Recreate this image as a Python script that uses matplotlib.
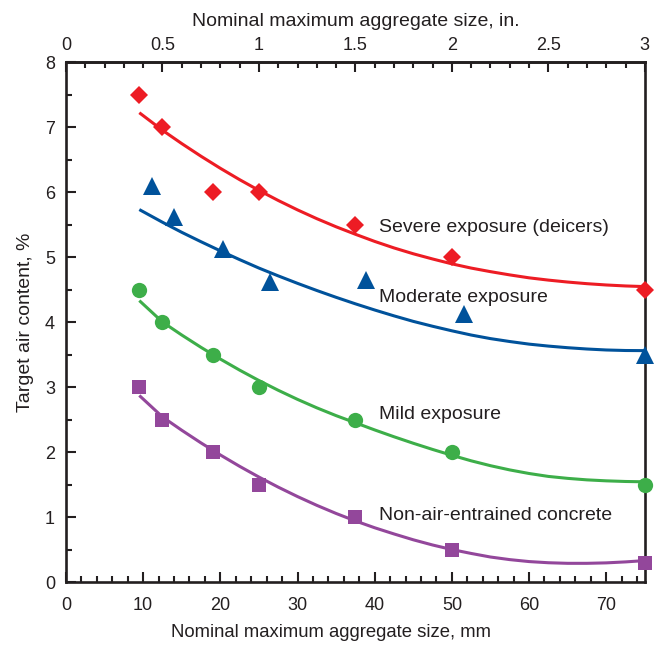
import matplotlib.pyplot as plt
from matplotlib.ticker import MultipleLocator

# measured points: aggregate size (mm) vs target air content (%)
size_mm = [9.5, 12.5, 19, 25, 37.5, 50, 75]
severe = [7.5, 7.0, 6.0, 6.0, 5.5, 5.0, 4.5]
mild = [4.5, 4.0, 3.5, 3.0, 2.5, 2.0, 1.5]
non_air = [3.0, 2.5, 2.0, 1.5, 1.0, 0.5, 0.3]

moderate_mm = [11.1, 14.0, 20.4, 26.4, 38.9, 51.6, 75]
moderate = [6.1, 5.62, 5.13, 4.62, 4.64, 4.13, 3.49]

# trend curves (every 2.5 mm)
curve_mm = [9.5, 12.5, 15, 17.5, 20, 22.5, 25, 27.5, 30, 32.5, 35, 37.5, 40, 42.5,
            45, 47.5, 50, 52.5, 55, 57.5, 60, 62.5, 65, 67.5, 70, 72.5, 75]
severe_fit = [7.22, 6.95, 6.745, 6.55, 6.365, 6.19, 6.025, 5.87, 5.725, 5.59, 5.465, 5.35, 5.24, 5.14,
              5.05, 4.97, 4.895, 4.83, 4.775, 4.725, 4.68, 4.645, 4.615, 4.59, 4.57, 4.555, 4.545]
moderate_fit = [5.73, 5.535, 5.38, 5.235, 5.095, 4.96, 4.83, 4.71, 4.595, 4.485, 4.38, 4.28, 4.185, 4.095,
                4.01, 3.935, 3.865, 3.8, 3.745, 3.7, 3.66, 3.63, 3.605, 3.585, 3.57, 3.562, 3.56]
mild_fit = [4.33, 4.0, 3.8, 3.61, 3.43, 3.26, 3.1, 2.95, 2.81, 2.68, 2.56, 2.45, 2.34, 2.235,
            2.135, 2.04, 1.95, 1.865, 1.79, 1.725, 1.67, 1.625, 1.595, 1.572, 1.557, 1.547, 1.542]
non_air_fit = [2.87, 2.54, 2.335, 2.14, 1.955, 1.78, 1.615, 1.46, 1.315, 1.18, 1.055, 0.94, 0.835, 0.74,
               0.65, 0.57, 0.5, 0.44, 0.385, 0.345, 0.315, 0.297, 0.288, 0.288, 0.295, 0.31, 0.33]

top_ticks = [0, 0.5, 1, 1.5, 2, 2.5, 3]

plt.rcParams['font.family'] = ['Liberation Sans', 'DejaVu Sans']
dark = '#231f20'
red = '#ed1c24'
blue = '#00529b'
green = '#3dae49'
purple = '#93479b'

fig = plt.figure(figsize=(6.6, 6.46), dpi=100)
ax = fig.add_axes([0.1, 0.099, 0.877, 0.805])

ax.plot(curve_mm, severe_fit, color=red, lw=2.2, solid_capstyle='butt')
ax.plot(curve_mm, moderate_fit, color=blue, lw=2.2, solid_capstyle='butt')
ax.plot(curve_mm, mild_fit, color=green, lw=2.2, solid_capstyle='butt')
ax.plot(curve_mm, non_air_fit, color=purple, lw=2.2, solid_capstyle='butt')

ax.plot(size_mm, severe, 'D', color=red, ms=9.5, mew=0, clip_on=False, zorder=5)
ax.plot(moderate_mm, moderate, '^', color=blue, ms=13, mew=0, clip_on=False, zorder=5)
ax.plot(size_mm, mild, 'o', color=green, ms=11, mew=0, clip_on=False, zorder=5)
ax.plot(size_mm, non_air, 's', color=purple, ms=9.5, mew=0, clip_on=False, zorder=5)

txt = dict(fontsize=14, color=dark, va='center', ha='left')
ax.text(40.6, 5.45, 'Severe exposure (deicers)', **txt)
ax.text(40.6, 4.38, 'Moderate exposure', **txt)
ax.text(40.6, 2.57, 'Mild exposure', **txt)
ax.text(40.6, 1.03, 'Non-air-entrained concrete', **txt)

ax.set_xlim(0, 75)
ax.set_ylim(0, 8)
ax.xaxis.set_major_locator(MultipleLocator(10))
ax.xaxis.set_minor_locator(MultipleLocator(2))
ax.yaxis.set_major_locator(MultipleLocator(1))
ax.yaxis.set_minor_locator(MultipleLocator(0.5))

for s in ax.spines.values():
    s.set_linewidth(1.9)
    s.set_color(dark)
ax.tick_params(which='both', direction='in', width=1.5, color=dark,
               labelsize=13, labelcolor=dark, top=False, right=False)
ax.tick_params(which='major', length=7.5)
ax.tick_params(which='minor', length=4)
ax.tick_params(axis='x', which='major', pad=11)
ax.tick_params(axis='y', which='major', pad=8)

ax.set_xlabel('Nominal maximum aggregate size, mm', fontsize=13.3, color=dark,
              labelpad=7, x=0.458)
ax.set_ylabel('Target air content, %', fontsize=14, color=dark, labelpad=8)

top = ax.secondary_xaxis('top', functions=(lambda x: x / 25, lambda x: x * 25))
top.set_xticks(top_ticks)
top.set_xticklabels([f'{v:g}' for v in top_ticks])
top.xaxis.set_minor_locator(MultipleLocator(0.1))
top.tick_params(which='both', direction='in', width=1.5, color=dark,
                labelsize=13, labelcolor=dark)
top.tick_params(which='major', length=7.5, pad=6)
top.tick_params(which='minor', length=4)
top.spines['top'].set_linewidth(1.9)
top.spines['top'].set_color(dark)
top.set_xlabel('Nominal maximum aggregate size, in.', fontsize=14, color=dark, labelpad=8)

fig.savefig('out.png', dpi=100)
